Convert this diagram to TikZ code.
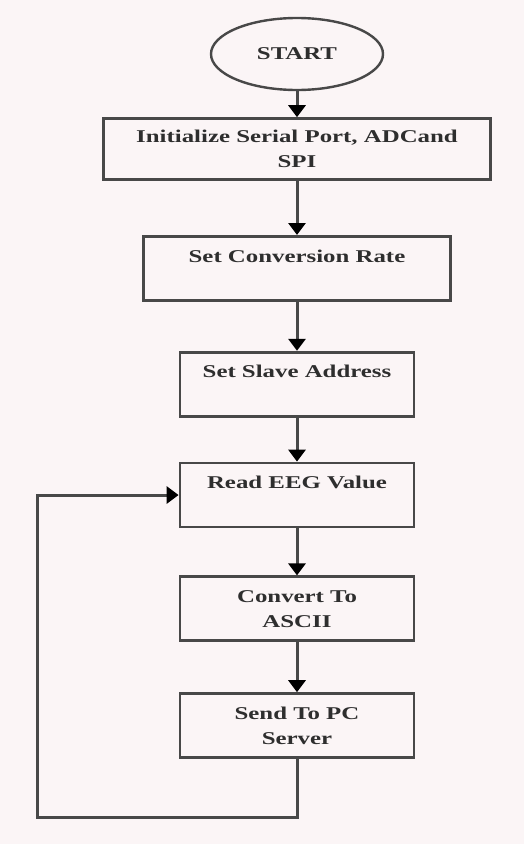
\documentclass[tikz,border=0pt]{standalone}
\usepackage{fontspec}
\setmainfont{Liberation Serif}[FakeStretch=1.38]
\usetikzlibrary{positioning,arrows.meta,shapes.geometric}
\definecolor{paper}{HTML}{FBF5F6}
\definecolor{ink}{HTML}{2E2E2E}
\definecolor{edge}{HTML}{484848}

\begin{document}
\begin{tikzpicture}[
  x=1pt, y=1pt,
  node distance=50pt,
  every node/.style={text=ink, font=\bfseries\fontsize{18}{25}\selectfont},
  box/.style={draw=edge, line width=2.8pt, minimum width=234pt, minimum height=64pt, align=center},
  term/.style={ellipse, draw=edge, line width=2.4pt, minimum width=172pt, minimum height=72pt, inner sep=0pt},
  arr/.style={-{Triangle[width=17pt,length=12pt,color=black]}, line width=3pt, draw=edge}
]
\useasboundingbox[fill=paper] (0,0) rectangle (524,-844);

\node[term] (start) at (297,-54) {START};
\node[box, minimum width=387pt, minimum height=61pt, below=26pt of start] (init) {Initialize Serial Port, ADCand\\SPI};
\node[box, minimum width=307pt, below=54pt of init] (rate) {Set Conversion Rate\\~};
\node[box, below=49pt of rate] (slave) {Set Slave Address\\~};
\node[box, below=44pt of slave] (read) {Read EEG Value\\~};
\node[box, below=47pt of read] (ascii) {Convert To\\ASCII};
\node[box, below=50pt of ascii] (send) {Send To PC\\Server};
\coordinate (loopend) at (37,-817);

\draw[arr] (start) -- (init);
\draw[arr] (init) -- (rate);
\draw[arr] (rate) -- (slave);
\draw[arr] (slave) -- (read);
\draw[arr] (read) -- (ascii);
\draw[arr] (ascii) -- (send);
\draw[arr] (send.south) |- (loopend) |- (read.west);
\end{tikzpicture}
\end{document}
